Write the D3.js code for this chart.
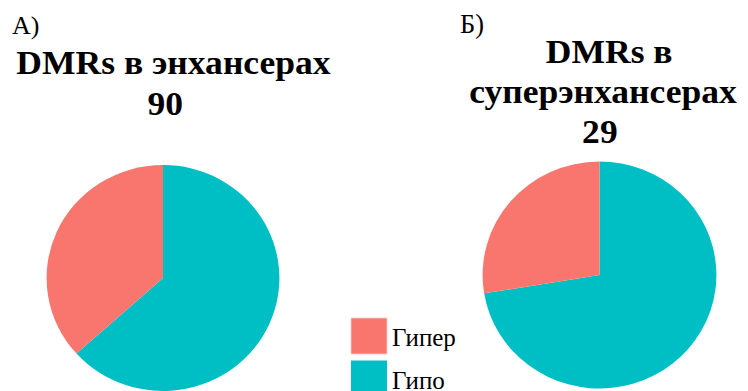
<!DOCTYPE html>
<html>
<head>
<meta charset="utf-8">
<script src="https://cdn.jsdelivr.net/npm/d3@7"></script>
<style>
  html, body { margin: 0; padding: 0; background: #fff; }
  svg { display: block; }
</style>
</head>
<body>
<svg id="chart" width="748" height="391"></svg>
<script>
// Categories and counts for each panel
const categories = ["Гипо", "Гипер"];
const colors = ["#00BFC4", "#F8766D"];
const enhancerCounts = [57, 33];        // total 90
const superEnhancerCounts = [21, 8];    // total 29
const legendLabels = ["Гипер", "Гипо"];

const FONT = "'Times New Roman', 'Liberation Serif', 'DejaVu Serif', serif";
const SX = 1.03; // slight horizontal stretch of the whole figure

const svg = d3.select("#chart");

const defs = svg.append("defs");
defs.append("filter").attr("id", "soft")
  .append("feGaussianBlur").attr("stdDeviation", 0.5);

const color = d3.scaleOrdinal().domain(categories).range(colors);

const pie = d3.pie().sort(null).value(d => d.value)
  .startAngle(0).endAngle(2 * Math.PI);

function label(x, y, size, txt) {
  return svg.append("text").attr("x", x).attr("y", y)
    .style("font-family", FONT).style("font-size", size + "px")
    .attr("fill", "#000").text(txt);
}

function drawPie(counts, cx, cy, r) {
  const data = categories.map((c, i) => ({ key: c, value: counts[i] }));
  const arc = d3.arc().innerRadius(0).outerRadius(r);
  const g = svg.append("g")
    .attr("transform", `translate(${cx},${cy}) scale(${SX},1)`)
    .attr("filter", "url(#soft)");
  g.selectAll("path").data(pie(data)).join("path")
    .attr("d", arc)
    .attr("fill", d => color(d.data.key));
}

function drawTitle(lines, cx, y0, lineH) {
  const t = svg.append("g")
    .attr("transform", `translate(${cx},0) scale(${SX},1)`)
    .append("text")
    .attr("text-anchor", "middle")
    .style("font-family", FONT)
    .style("font-weight", "bold")
    .style("font-size", "34.5px")
    .attr("fill", "#000");
  lines.forEach((l, i) => {
    t.append("tspan").attr("x", l.dx || 0)
      .attr("y", y0 + i * lineH).text(l.text);
  });
}

// Panel labels
label(12, 34, 26, "А)");
label(460, 33, 26.5, "Б)");

// Panel A
drawTitle([{ text: "DMRs в энхансерах" }, { text: String(d3.sum(enhancerCounts)), dx: -8 }], 173.5, 74, 41);
drawPie(enhancerCounts, 163, 278, 113);

// Panel B
drawTitle([{ text: "DMRs в", dx: 5 }, { text: "суперэнхансерах", dx: -1 }, { text: String(d3.sum(superEnhancerCounts)), dx: -4 }], 604, 63, 40);
drawPie(superEnhancerCounts, 599.5, 275, 113.5);

// Legend
const legend = svg.append("g").attr("transform", "translate(351,318)");
legendLabels.forEach((lab, i) => {
  const row = legend.append("g").attr("transform", `translate(0,${i * 42.5})`);
  row.append("rect").attr("width", 36).attr("height", 36)
    .attr("fill", color(lab)).attr("stroke", "#fbd0cc").attr("stroke-width", i === 0 ? 0.8 : 0)
    .attr("filter", "url(#soft)");
  row.append("text").attr("x", 41).attr("y", 28)
    .style("font-family", FONT).style("font-size", "25px")
    .attr("fill", "#000").text(lab);
});
</script>
</body>
</html>
